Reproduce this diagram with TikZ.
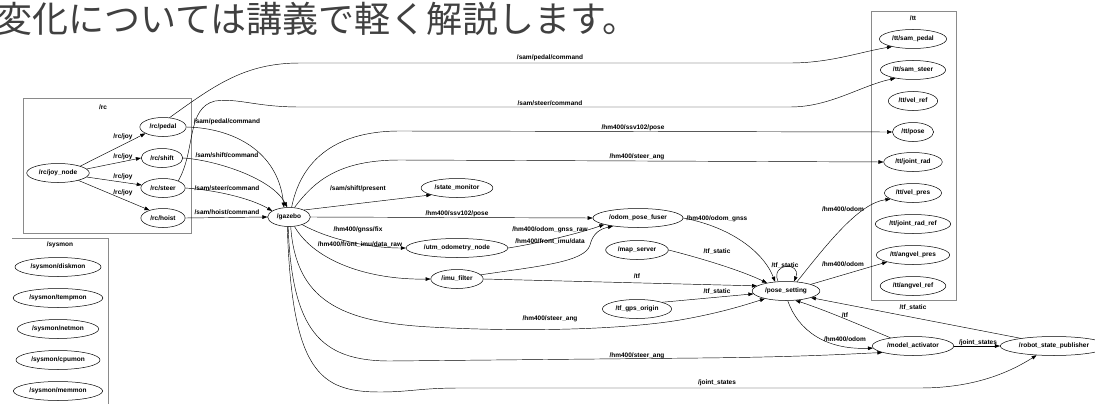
\documentclass[tikz,border=0pt]{standalone}
\usepackage{fontspec}
\setmainfont{Liberation Sans}
\newfontfamily\jpfont{Noto Sans CJK JP}
\usepackage{tikz}
\usetikzlibrary{arrows.meta,shapes.geometric}
\definecolor{capgray}{HTML}{404040}
\definecolor{boxgray}{HTML}{8A8A8A}

\begin{document}
\begin{tikzpicture}[
    x=1pt, y=-1pt,
    font=\fontsize{6.5}{7}\selectfont\bfseries,
    rosnode/.style={draw, ellipse, line width=0.5pt, inner xsep=3pt, inner ysep=1pt, minimum height=19pt},
    group/.style={draw=boxgray, line width=0.6pt},
    link/.style={-{Triangle[length=5pt,width=3.6pt]}, line width=0.45pt},
    lab/.style={inner sep=0pt}
]
\useasboundingbox (0,0) rectangle (1095,404);

% ---- slide caption ----
\node[anchor=base west, inner sep=0pt, text=capgray, font=\jpfont\fontsize{36}{40}\selectfont]
    (caption) at (-4,33) {変化については講義で軽く解説します。};

% ---- namespace /rc ----
\draw[group] (23,98) rectangle (191,233);
\node[lab] (rcname) at (103,107) {/rc};
\node[rosnode] (joy)   at (58,173)  {/rc/joy\_node};
\node[rosnode] (pedal) at (163,127) {/rc/pedal};
\node[rosnode] (shift) at (162,158) {/rc/shift};
\node[rosnode] (steer) at (163,188) {/rc/steer};
\node[rosnode] (hoist) at (163,218) {/rc/hoist};

% ---- namespace /sysmon (cut off at the bottom) ----
\draw[group] (12,238) -- (108,238) -- (108,404);
\node[lab] (sysname) at (60,245) {/sysmon};
\node[rosnode] (diskmon) at (58,267) {/sysmon/diskmon};
\node[rosnode] (tempmon) at (58,298) {/sysmon/tempmon};
\node[rosnode] (netmon)  at (58,329) {/sysmon/netmon};
\node[rosnode] (cpumon)  at (58,360) {/sysmon/cpumon};
\node[rosnode] (memmon)  at (58,391) {/sysmon/memmon};

% ---- namespace /tt ----
\draw[group] (871,11) rectangle (956,300);
\node[lab] (ttname) at (913,18) {/tt};
\node[rosnode] (ttpedal)    at (913,39)  {/tt/sam\_pedal};
\node[rosnode] (ttsteer)    at (913,70)  {/tt/sam\_steer};
\node[rosnode] (velref)     at (913,101) {/tt/vel\_ref};
\node[rosnode] (ttpose)     at (913,132) {/tt/pose};
\node[rosnode] (jointrad)   at (913,162) {/tt/joint\_rad};
\node[rosnode] (velpres)    at (913,193) {/tt/vel\_pres};
\node[rosnode] (jointref)   at (913,224) {/tt/joint\_rad\_ref};
\node[rosnode] (angvelpres) at (913,255) {/tt/angvel\_pres};
\node[rosnode] (angvelref)  at (913,286) {/tt/angvel\_ref};

% ---- other nodes ----
\node[rosnode] (gazebo)    at (289,217)  {/gazebo};
\node[rosnode] (statemon)  at (457,188)  {/state\_monitor};
\node[rosnode] (utm)       at (457,248)  {/utm\_odometry\_node};
\node[rosnode] (imu)       at (457,279)  {/imu\_filter};
\node[rosnode] (fuser)     at (638,218)  {/odom\_pose\_fuser};
\node[rosnode] (mapsrv)    at (637,250)  {/map\_server};
\node[rosnode] (gpsorigin) at (637,309)  {/tf\_gps\_origin};
\node[rosnode] (pose)      at (786,291)  {/pose\_setting};
\node[rosnode] (activator) at (913,346)  {/model\_activator};
\node[rosnode] (rsp)       at (1054,346) {/robot\_state\_publisher};

% ---- joystick topics ----
\draw[link] (joy.north east) -- (pedal.200);
\draw[link] (joy.8) -- (shift.west);
\draw[link] (joy.-8) -- (steer.172);
\draw[link] (joy.-20) -- (hoist.150);
\node[lab] (ljoy1) at (123,137) {/rc/joy};
\node[lab] (ljoy2) at (123,157) {/rc/joy};
\node[lab] (ljoy3) at (123,177) {/rc/joy};
\node[lab] (ljoy4) at (123,193) {/rc/joy};

% ---- commands into /gazebo ----
\draw[link] (pedal.east) .. controls (232,128) and (278,150) .. (gazebo.118);
\draw[link] (shift.east) .. controls (215,160) and (272,178) .. (gazebo.100);
\draw[link] (steer.east) .. controls (215,190) and (250,198) .. (gazebo.160);
\draw[link] (hoist.east) -- (gazebo.west);
\node[lab] (lcmd1) at (227,122) {/sam/pedal/command};
\node[lab] (lcmd2) at (227,155) {/sam/shift/command};
\node[lab] (lcmd3) at (227,188) {/sam/steer/command};
\node[lab] (lcmd4) at (227,212) {/sam/hoist/command};

% ---- long edges along the top ----
\draw[link] (pedal.55) .. controls (215,85) and (245,63) .. (300,63) -- (790,63)
    .. controls (830,63) and (860,52) .. (ttpedal.200);
\draw[link] (steer.25) .. controls (196,150) and (186,108) .. (215,101)
    .. controls (240,98) and (255,107) .. (300,107) -- (790,107)
    .. controls (830,107) and (860,86) .. (ttsteer.205);
\draw[link] (gazebo.75) .. controls (300,165) and (330,131) .. (400,131) -- (ttpose.west);
\draw[link] (gazebo.60) .. controls (315,180) and (340,160) .. (400,160) -- (jointrad.west);
\node[lab] (lpedal) at (550,58)  {/sam/pedal/command};
\node[lab] (lsteer) at (550,103) {/sam/steer/command};
\node[lab] (lpose)  at (633,128) {/hm400/ssv102/pose};
\node[lab] (lang)   at (637,157) {/hm400/steer\_ang};

% ---- /gazebo outputs ----
\draw[link] (gazebo.25) -- (statemon.195);
\draw[link] (gazebo.east) -- (fuser.west);
\draw[link] (gazebo.-30) .. controls (330,240) and (370,248) .. (utm.west);
\draw[link] (gazebo.-60) .. controls (315,262) and (370,280) .. (imu.west);
\draw[link] (gazebo.-80) .. controls (296,300) and (340,322) .. (430,327)
    .. controls (520,332) and (620,330) .. (680,320) .. controls (720,313) and (745,305) .. (pose.200);
\draw[link] (gazebo.-95) .. controls (292,330) and (320,361) .. (390,361) -- (700,358)
    .. controls (800,357) and (850,354) .. (activator.192);
\draw[link] (gazebo.-100) .. controls (292,372) and (320,392) .. (380,392)
    .. controls (410,392) and (420,388) .. (460,388) -- (920,388)
    .. controls (975,388) and (1010,372) .. (rsp.208);
\node[lab] (lpresent) at (358,189) {/sam/shift/present};
\node[lab] (lssv)     at (457,214) {/hm400/ssv102/pose};
\node[lab] (lfix)     at (358,230) {/hm400/gnss/fix};
\node[lab] (lraw)     at (360,245) {/hm400/front\_imu/data\_raw};
\node[lab] (lang2)    at (550,319) {/hm400/steer\_ang};
\node[lab] (lang3)    at (637,356) {/hm400/steer\_ang};
\node[lab] (ljs1)     at (717,383) {/joint\_states};

% ---- odometry / imu ----
\draw[link] (utm.east) .. controls (540,243) and (580,233) .. (fuser.191);
\draw[link] (imu.10) .. controls (540,266) and (585,262) .. (590,245)
    .. controls (593,233) and (600,229) .. (fuser.198);
\node[lab] (lgnssraw) at (550,230) {/hm400/odom\_gnss\_raw};
\node[lab] (limu)     at (550,242) {/hm400/front\_imu/data};

% ---- into /pose_setting ----
\draw[link] (fuser.east) .. controls (735,228) and (765,255) .. (pose.140);
\draw[link] (mapsrv.east) .. controls (700,258) and (740,270) .. (pose.157);
\draw[link] (imu.east) -- (pose.170);
\draw[link] (gpsorigin.15) -- (pose.185);
\draw[link] (pose.130) .. controls (770,262) and (802,262) .. (pose.50);
\node[lab] (lgnss)  at (717,219) {/hm400/odom\_gnss};
\node[lab] (lst1)   at (717,252) {/tf\_static};
\node[lab] (ltf1)   at (637,276) {/tf};
\node[lab] (lst2)   at (717,292) {/tf\_static};
\node[lab] (lloop)  at (785,266) {/tf\_static};

% ---- out of /pose_setting ----
\draw[link] (pose.40) .. controls (830,240) and (860,203) .. (velpres.195);
\draw[link] (pose.15) -- (angvelpres.195);
\draw[link] (pose.-80) .. controls (798,330) and (825,350) .. (activator.183);
\draw[link] (activator.160) .. controls (860,325) and (825,310) .. (pose.-45);
\draw[link] (rsp.167) -- (pose.-15);
\draw[link] (activator.east) -- (rsp.west);
\node[lab] (lodom1) at (843,209) {/hm400/odom};
\node[lab] (lodom2) at (843,264) {/hm400/odom};
\node[lab] (lodom3) at (845,339) {/hm400/odom};
\node[lab] (ltf2)   at (845,315) {/tf};
\node[lab] (lst3)   at (913,308) {/tf\_static};
\node[lab] (ljs2)   at (978,343) {/joint\_states};

\end{tikzpicture}
\end{document}
